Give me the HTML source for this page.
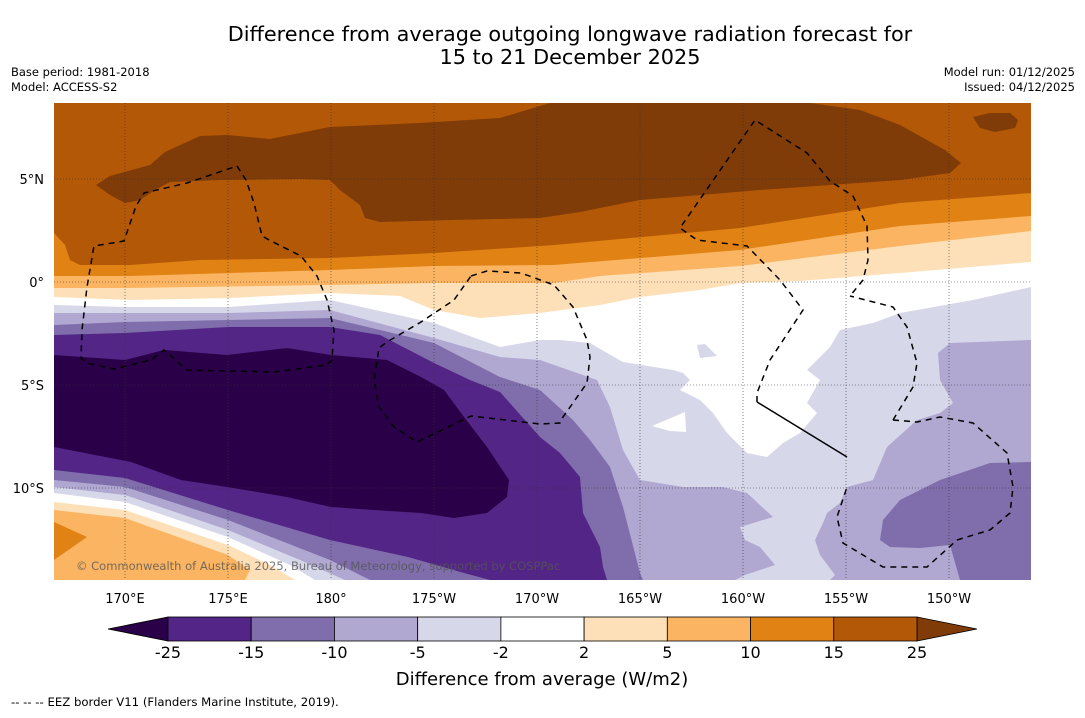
<!DOCTYPE html>
<html><head><meta charset="utf-8"><style>
html,body{margin:0;padding:0;background:#fff;}
body{width:1085px;height:713px;overflow:hidden;font-family:"Liberation Sans","DejaVu Sans",sans-serif;}
svg text{font-family:"DejaVu Sans","Liberation Sans",sans-serif;}
</style></head><body>
<svg id="chart" width="1085" height="713" viewBox="0 0 1085 713" xmlns="http://www.w3.org/2000/svg">
<text x="570" y="41" text-anchor="middle" font-size="20.8" fill="#000">Difference from average outgoing longwave radiation forecast for</text>
<text x="570" y="64" text-anchor="middle" font-size="20.8" fill="#000">15 to 21 December 2025</text>
<text x="11" y="76" font-size="11.5">Base period: 1981-2018</text>
<text x="11" y="91" font-size="11.5">Model: ACCESS-S2</text>
<text x="1075" y="76" font-size="11.5" text-anchor="end">Model run: 01/12/2025</text>
<text x="1075" y="91" font-size="11.5" text-anchor="end">Issued: 04/12/2025</text>
<defs><clipPath id="mapclip"><rect x="54" y="103" width="977" height="477"/></clipPath></defs>
<g clip-path="url(#mapclip)">
<rect x="54" y="103" width="977" height="477" fill="#d7d7ea"/>
<path fill="#ffffff" d="M54,103 L1031,103 L1031,287 L973,300 L900,313 L873,323 L840,330 L830,347 L807,370 L820,380 L807,403 L817,413 L800,433 L783,443 L767,457 L747,453 L727,433 L713,413 L700,400 L680,390 L690,380 L683,373 L673,370 L623,362 L607,353 L590,343 L560,340 L540,340 L500,347 L434,323 L330,300 L228,307 L125,307 L54,305 Z"/>
<path fill="#d7d7ea" d="M697,345 L705,344 L717,356 L700,358 Z"/>
<path fill="#ffffff" d="M652,426 L685,412 L686,432 L670,431 Z"/>
<path fill="#b0a8d1" d="M54,313 L125,313 L228,313 L330,310 L434,338 L500,357 L540,360 L560,367 L597,380 L610,407 L623,450 L640,480 L683,487 L723,487 L747,493 L773,517 L740,527 L745,540 L760,547 L775,565 L745,575 L735,580 L54,580 Z"/>
<path fill="#b0a8d1" d="M1031,340 L950,343 L938,353 L940,380 L953,403 L940,413 L917,420 L887,447 L873,480 L847,487 L840,503 L827,513 L823,523 L815,540 L820,555 L835,575 L830,580 L1031,580 Z"/>
<path fill="#7f6eab" d="M54,325 L125,322 L228,320 L330,318 L434,343 L500,377 L540,390 L573,420 L590,440 L610,467 L623,507 L640,573 L643,580 L54,580 Z"/>
<path fill="#7f6eab" d="M880,540 L883,520 L900,500 L940,480 L990,463 L1031,462 L1031,580 L960,580 L950,545 L920,548 L890,547 Z"/>
<path fill="#532586" d="M54,335 L125,333 L228,327 L330,327 L380,335 L434,363 L470,380 L500,392 L540,437 L560,453 L580,477 L583,513 L600,547 L603,567 L607,580 L54,580 Z"/>
<path fill="#2a0048" d="M54,355 L125,360 L164,350 L227,355 L287,348 L331,355 L387,360 L421,377 L444,390 L464,417 L487,447 L509,480 L507,497 L487,513 L454,518 L421,513 L374,510 L331,507 L287,497 L227,487 L181,480 L131,462 L54,447 Z"/>
<path fill="#7f6eab" d="M54,470 L125,478 L228,510 L330,540 L408,557 L464,573 L490,580 L54,580 Z"/>
<path fill="#b0a8d1" d="M54,480 L125,487 L228,520 L330,560 L370,580 L54,580 Z"/>
<path fill="#d7d7ea" d="M54,487 L125,495 L228,530 L300,560 L345,580 L54,580 Z"/>
<path fill="#ffffff" d="M54,493 L125,502 L228,537 L290,565 L315,580 L54,580 Z"/>
<path fill="#fde0b8" d="M54,502 L125,510 L228,545 L270,565 L295,580 L54,580 Z"/>
<path fill="#fbb562" d="M54,510 L125,518 L228,555 L250,570 L245,580 L54,580 Z"/>
<path fill="#e08214" d="M54,522 L87,537 L54,560 Z"/>
<path fill="#fde0b8" d="M54,103 L1031,103 L1031,262 L900,273 L800,281 L740,283 L700,290 L640,297 L600,305 L540,313 L480,318 L434,310 L400,296 L330,293 L230,298 L130,300 L54,297 Z"/>
<path fill="#fbb562" d="M54,103 L1031,103 L1031,231 L900,246 L740,266 L600,276 L554,283 L434,283 L330,285 L130,288 L54,288 Z"/>
<path fill="#e08214" d="M54,103 L1031,103 L1031,216 L900,226 L740,250 L554,265 L434,266 L330,270 L130,276 L54,276 Z"/>
<path fill="#b35806" d="M54,103 L1031,103 L1031,193 L900,203 L740,228 L554,245 L434,253 L330,258 L200,260 L130,265 L80,265 L70,260 L65,245 L54,233 Z"/>
<path fill="#7f3b08" d="M96,185 L110,176 L150,165 L165,152 L200,136 L228,135 L270,139 L330,127 L420,123 L500,118 L550,103 L810,103 L860,110 L900,125 L945,150 L961,163 L950,173 L900,180 L830,185 L760,190 L700,195 L640,200 L580,212 L540,218 L450,220 L380,222 L365,218 L360,205 L340,190 L330,180 L300,179 L220,180 L170,182 L155,190 L140,200 L125,203 L110,195 Z"/>
<path fill="#7f3b08" d="M973,117 L990,113 L1010,113 L1018,120 L1015,128 L995,132 L980,128 Z"/>
<g id="grid"></g>
<g fill="none" stroke="#000" stroke-width="1.5" stroke-dasharray="6,5">
<path d="M237,166 L246,180 L254,203 L262,236 L271,241 L301,256 L317,276 L327,300 L334,330 L332,360 L327,365 L274,372 L187,370 L164,350 L151,360 L114,369 L87,363 L81,358 L82,330 L87,287 L94,246 L124,241 L136,206 L144,193 L187,183 Z"/>
<path d="M471,276 L487,271 L521,273 L554,285 L573,307 L587,340 L590,357 L587,383 L563,417 L560,423 L540,424 L471,416 L417,442 L394,427 L379,407 L374,380 L379,348 L387,342 L421,322 L454,300 Z"/>
<path d="M757,402 L757,393 L770,360 L803,310 L780,280 L747,246 L697,240 L680,228 L755,120 L807,153 L830,181 L853,196 L867,226 L868,260 L863,280 L850,296"/>
<path d="M893,420 L913,387 L917,363 L907,327 L893,307 L850,296"/>
<path d="M893,420 L917,422 L940,417 L973,423 L1007,453 L1013,487 L1010,513 L990,530 L957,540 L927,567 L883,567 L843,543 L837,517 L847,487"/>
<path stroke-dasharray="none" d="M757,402 L847,457"/>
</g>
<text x="76" y="570" font-size="11.5" fill="#555" fill-opacity="0.8">© Commonwealth of Australia 2025, Bureau of Meteorology, supported by COSPPac</text>
</g>
<g id="axes"></g>
<g id="colorbar"></g>
<text x="542" y="685" text-anchor="middle" font-size="18">Difference from average (W/m2)</text>
<text x="11" y="706" font-size="11.7">--  --  -- EEZ border V11 (Flanders Marine Institute, 2019).</text>
</svg>
<script>
const lonTicks = [170, 175, 180, -175, -170, -165, -160, -155, -150];
const lonLabels = ["170°E","175°E","180°","175°W","170°W","165°W","160°W","155°W","150°W"];
const latTicks = [5, 0, -5, -10];
const latLabels = ["5°N","0°","5°S","10°S"];
const cbLevels = [-25,-15,-10,-5,-2,2,5,10,15,25];
const cbColors = ["#532586","#7f6eab","#b0a8d1","#d7d7ea","#ffffff","#fde0b8","#fbb562","#e08214","#b35806"];
const cbUnder = "#2a0048", cbOver = "#7f3b08";

const NS = "http://www.w3.org/2000/svg";
function xLon(l){ const e = l < 0 ? l + 360 : l; return 125 + (e - 170) * 20.6; }
function yLat(l){ return 282 - l * 20.6; }
function mk(tag, attrs, parent){ const el = document.createElementNS(NS, tag); for (const k in attrs) el.setAttribute(k, attrs[k]); parent.appendChild(el); return el; }

const grid = document.getElementById('grid');
const axes = document.getElementById('axes');
lonTicks.forEach((l, i) => {
  const x = xLon(l);
  const ln = mk('line', {x1:x, x2:x, y1:103, y2:580, stroke:'#333', 'stroke-width':0.6, 'stroke-dasharray':'1,2'}, grid);
  
  
  const t = mk('text', {x:x, y:603, 'text-anchor':'middle', 'font-size':13}, axes);
  t.textContent = lonLabels[i];
  
  
});
latTicks.forEach((l, i) => {
  const y = yLat(l);
  const ln = mk('line', {x1:54, x2:1031, y1:y, y2:y, stroke:'#333', 'stroke-width':0.6, 'stroke-dasharray':'1,2'}, grid);
  
  
  const t = mk('text', {x:44, y:y + 5, 'text-anchor':'end', 'font-size':13}, axes);
  t.textContent = latLabels[i];
  
  
});

const cb = document.getElementById('colorbar');
const cbX0 = 168, cbX1 = 917, cbY = 617, cbH = 24;
const step = (cbX1 - cbX0) / (cbLevels.length - 1);
function xLev(i){ return cbX0 + i * step; }
const under = mk('path', {d:`M${cbX0},${cbY} L108,${cbY + cbH/2} L${cbX0},${cbY + cbH} Z`, fill:cbUnder, stroke:'#000', 'stroke-width':0.8}, cb);


const over = mk('path', {d:`M${cbX1},${cbY} L977,${cbY + cbH/2} L${cbX1},${cbY + cbH} Z`, fill:cbOver, stroke:'#000', 'stroke-width':0.8}, cb);


cbColors.forEach((c, i) => {
  const r = mk('rect', {x:xLev(i), y:cbY, width:step, height:cbH, fill:c, stroke:'#000', 'stroke-width':0.8}, cb);
  
  
});
cbLevels.forEach((v, i) => {
  const t = mk('text', {x:xLev(i), y:658, 'text-anchor':'middle', 'font-size':16}, cb);
  t.textContent = String(v);
  
  
});
</script>
</body></html>
